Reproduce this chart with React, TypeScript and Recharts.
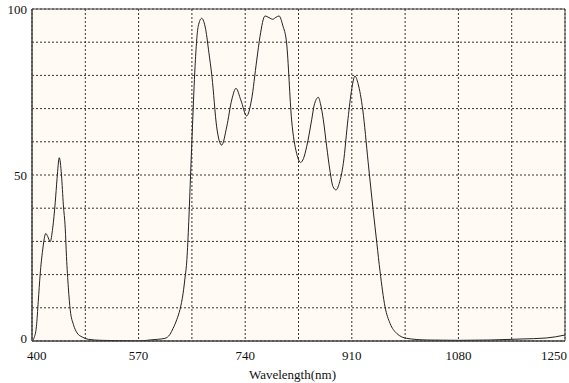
import React from "react";
import {
  LineChart,
  Line,
  XAxis,
  YAxis,
  CartesianGrid,
  ReferenceArea,
} from "recharts";

// wavelength (nm) and transmission (%)
const wavelength = [
  400, 403, 407, 410, 413, 417, 422, 425, 429, 433, 437, 440, 443.5, 447, 450,
  453, 455, 458, 461, 466, 472, 480, 490, 510, 540, 570, 588, 600, 612, 620,
  625, 631, 636, 641, 644, 647, 650, 653, 656, 660, 665, 670.6, 677, 682, 687,
  694.5, 702.5, 710.5, 718.5, 725.3, 733, 742.4, 750, 758.4, 763.6, 771.6, 778,
  784, 789, 794, 800, 806, 814, 822, 828.5, 833, 838, 846, 850, 856.6, 860,
  864.6, 870, 875, 880, 884.8, 890, 896.5, 904, 910, 915, 920, 927.5, 936, 944,
  950, 955, 963, 971, 981.6, 997.6, 1030, 1080, 1130, 1180, 1220, 1250,
];

const transmission = [
  0, 0.8, 4.3, 12, 20, 27.4, 32.4, 31.5, 29.9, 34, 41.6, 49, 55.2, 50, 41, 34,
  25.4, 16, 9.3, 5, 2.4, 1.2, 0.5, 0.2, 0.1, 0, 0.3, 0.5, 0.8, 2, 3.8, 6.5,
  9.5, 14.4, 19, 24.5, 36, 50.6, 65, 82.6, 94.7, 97.2, 93.8, 87, 79.6, 64.5,
  59, 64.5, 72.6, 76.1, 72.6, 67.8, 72.6, 84.6, 91.7, 97.9, 97.4, 96.9, 97.5,
  97.9, 95, 89.8, 66.6, 56.5, 53.8, 55, 58.5, 66.6, 71, 73.4, 71.5, 66.6, 58.5,
  51.5, 46.5, 45.5, 47.5, 53.5, 67, 76, 79.8, 77.5, 69.6, 54, 39.5, 29.4, 21,
  10.3, 5.3, 2.3, 0.8, 0.3, 0.2, 0.3, 0.6, 0.9, 1.8,
];

// grid every 85 nm / 10 %, labels every 170 nm / 50 %
const xTicks = [400, 485, 570, 655, 740, 825, 910, 995, 1080, 1165, 1250];
const xLabels = [400, 570, 740, 910, 1080, 1250];
const yTicks = [0, 10, 20, 30, 40, 50, 60, 70, 80, 90, 100];
const yLabels = [0, 50, 100];

const data = wavelength.map((w, i) => ({ w, t: transmission[i] }));

const serif = "Liberation Serif, Times New Roman, serif";

// bottom tick: edge labels are pulled inside the frame like the original
const XTick = (props: any) => {
  const { x, y, payload } = props;
  const v = payload.value;
  if (!xLabels.includes(v)) return null;
  let anchor: "start" | "middle" | "end" = "middle";
  let dx = 0;
  if (v === xLabels[0]) {
    anchor = "start";
    dx = -5;
  } else if (v === xLabels[xLabels.length - 1]) {
    anchor = "end";
    dx = 2;
  }
  return (
    <text
      x={x + dx}
      y={y + 4}
      dy="0.71em"
      textAnchor={anchor}
      fontFamily={serif}
      fontSize={13}
      fill="#111"
    >
      {v}
    </text>
  );
};

const YTick = (props: any) => {
  const { x, y, payload } = props;
  const v = payload.value;
  if (!yLabels.includes(v)) return null;
  return (
    <text
      x={x}
      y={v === 0 ? y - 3 : y}
      dy="0.355em"
      textAnchor="end"
      fontFamily={serif}
      fontSize={13}
      fill="#111"
    >
      {v}
    </text>
  );
};

export default function App() {
  return (
    <div style={{ position: "absolute", left: 0, top: 0, background: "#fff", fontFamily: serif }}>
      <LineChart
        width={569}
        height={383}
        data={data}
        margin={{ top: 9, right: 4, left: 0, bottom: 0 }}
      >
        <CartesianGrid
          stroke="#333"
          strokeDasharray="2 2"
          fill="#fffaf4"
          fillOpacity={1}
        />
        <XAxis
          dataKey="w"
          type="number"
          domain={[400, 1250]}
          ticks={xTicks}
          tickLine={false}
          axisLine={{ stroke: "#444" }}
          tick={<XTick />}
          tickMargin={0}
          height={42}
          interval={0}
          label={{
            value: "Wavelength(nm)",
            position: "insideBottom",
            offset: 4,
            dx: -6,
            fontFamily: serif,
            fontSize: 13,
            fill: "#111",
          }}
        />
        <YAxis
          type="number"
          domain={[0, 100]}
          ticks={yTicks}
          tickLine={false}
          axisLine={{ stroke: "#444" }}
          tick={<YTick />}
          tickSize={3}
          tickMargin={2}
          width={32}
          interval={0}
          allowDataOverflow
        />
        <ReferenceArea
          x1={400}
          x2={1250}
          y1={0}
          y2={100}
          fill="none"
          stroke="#444"
          strokeWidth={1}
          ifOverflow="visible"
        />
        <Line
          type="monotone"
          dataKey="t"
          stroke="#222"
          strokeWidth={1}
          dot={false}
          isAnimationActive={false}
        />
      </LineChart>
    </div>
  );
}
